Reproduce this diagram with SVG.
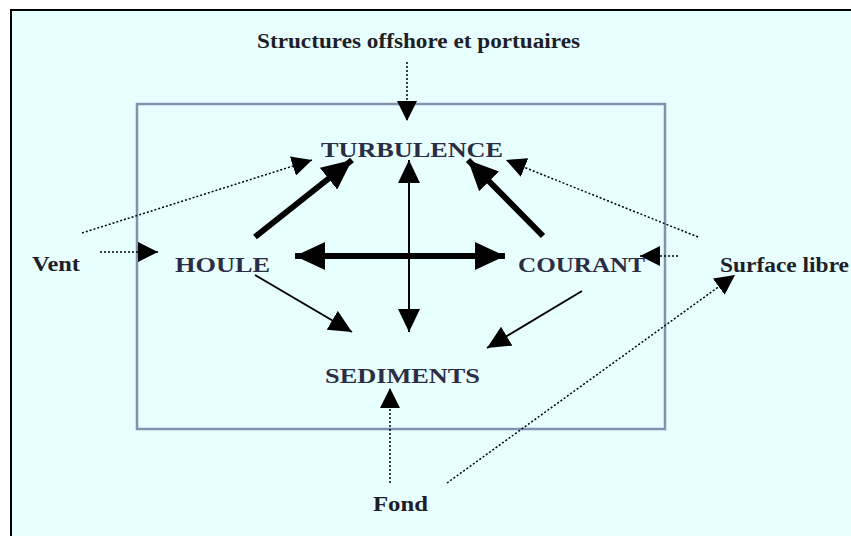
<svg xmlns="http://www.w3.org/2000/svg" width="851" height="536" viewBox="0 0 851 536">
<style>
.node{font-family:"Liberation Serif","Times New Roman",serif;font-weight:bold;font-size:22px;fill:#2b2d45;}
.lbl{font-family:"Liberation Serif","Times New Roman",serif;font-weight:bold;font-size:20px;fill:#1e1e28;}
.thick{stroke:#000;stroke-width:6;fill:none;}
.thin{stroke:#000;stroke-width:2;fill:none;}
.dot{stroke:#000;stroke-width:1.5;stroke-dasharray:2 2;fill:none;}
</style>
<defs>
<marker id="big" markerUnits="userSpaceOnUse" markerWidth="30" markerHeight="28" refX="30" refY="14" orient="auto-start-reverse" viewBox="0 0 30 28"><path d="M0,0 L30,14 L0,28 z" fill="#000"/></marker>
<marker id="small" markerUnits="userSpaceOnUse" markerWidth="23" markerHeight="22" refX="23" refY="11" orient="auto-start-reverse" viewBox="0 0 23 22"><path d="M0,0 L23,11 L0,22 z" fill="#000"/></marker>
<marker id="dotHead" markerUnits="userSpaceOnUse" markerWidth="20" markerHeight="20" refX="20" refY="10" orient="auto" viewBox="0 0 20 20"><path d="M0,0 L20,10 L0,20 z" fill="#000"/></marker>
</defs>
<rect x="0" y="0" width="851" height="536" fill="#ffffff"/>
<rect id="frame" x="11" y="10" width="900" height="600" fill="#e8ffff" stroke="#000" stroke-width="2"/>
<rect id="system" x="137" y="104" width="528" height="325" fill="none" stroke="#8391b0" stroke-width="2.5"/>
<g id="connectors">
<path class="dot" d="M407,62 L407,121" marker-end="url(#dotHead)"/>
<path class="dot" d="M100,252 L158,252" marker-end="url(#dotHead)"/>
<path class="dot" d="M82,233 L312,160" marker-end="url(#dotHead)"/>
<path class="thick" d="M255,237 L352,160" marker-end="url(#big)"/>
<path class="thick" d="M295,256 L505,256" marker-start="url(#big)" marker-end="url(#big)"/>
<path class="thin" d="M409,160 L409,332" marker-start="url(#small)" marker-end="url(#small)"/>
<path class="thin" d="M255,275 L352,332" marker-end="url(#small)"/>
<path class="thick" d="M543,236 L468,160" marker-end="url(#big)"/>
<path class="dot" d="M698,237 L506,160" marker-end="url(#dotHead)"/>
<path class="dot" d="M678,256 L640,256" marker-end="url(#dotHead)"/>
<path class="thin" d="M582,291 L487,348" marker-end="url(#small)"/>
<path class="dot" d="M390,483 L390,388" marker-end="url(#dotHead)"/>
<path class="dot" d="M447,483 L735,275" marker-end="url(#dotHead)"/>
</g>
<g id="turbulence"><text class="node" x="321" y="157" textLength="182" lengthAdjust="spacingAndGlyphs">TURBULENCE</text></g>
<g id="houle"><text class="node" x="175" y="272" textLength="95" lengthAdjust="spacingAndGlyphs">HOULE</text></g>
<g id="courant"><text class="node" x="518" y="272" textLength="127" lengthAdjust="spacingAndGlyphs">COURANT</text></g>
<g id="sediments"><text class="node" x="325" y="383" textLength="155" lengthAdjust="spacingAndGlyphs">SEDIMENTS</text></g>
<g id="structures"><text class="lbl" x="257" y="48" textLength="323" lengthAdjust="spacingAndGlyphs">Structures offshore et portuaires</text></g>
<g id="vent"><text class="lbl" x="32" y="271" textLength="48" lengthAdjust="spacingAndGlyphs">Vent</text></g>
<g id="surface"><text class="lbl" x="720" y="272" textLength="129" lengthAdjust="spacingAndGlyphs">Surface libre</text></g>
<g id="fond"><text class="lbl" x="373" y="511" textLength="55" lengthAdjust="spacingAndGlyphs">Fond</text></g>
</svg>
